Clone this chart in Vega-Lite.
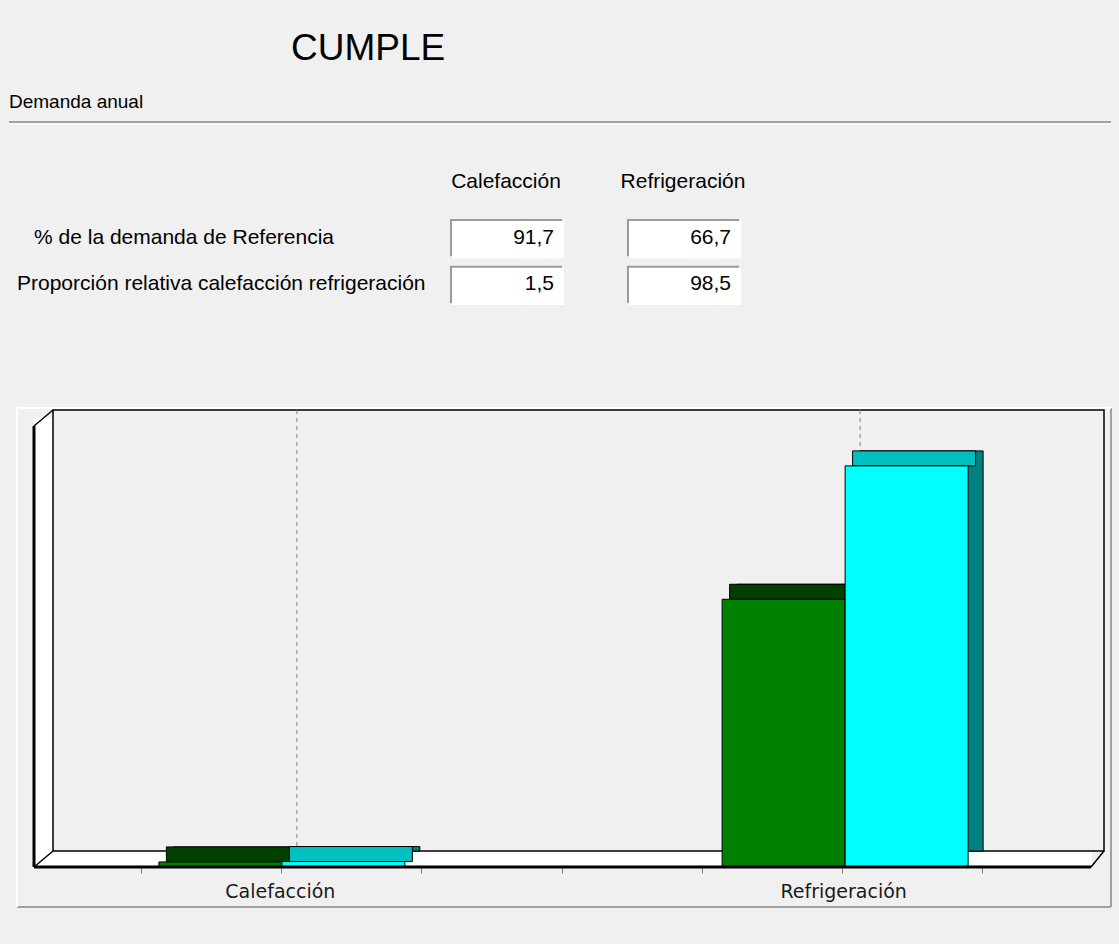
{
  "$schema": "https://vega.github.io/schema/vega-lite/v6.json",
  "background": "#f0f0f0",
  "padding": {"left": 8, "top": 30, "right": 9, "bottom": 38},
  "title": {"text": "CUMPLE", "anchor": "start", "frame": "group", "dx": 282, "offset": 25, "fontSize": 37, "font": "Liberation Sans", "fontWeight": "normal", "color": "#000000"},
  "config": {
    "view": {"stroke": null},
    "locale": {"number": {"decimal": ",", "thousands": ".", "grouping": [3], "currency": ["", " €"]}}
  },
  "spacing": 86,
  "bounds": "flush",
  "vconcat": [
    {
      "width": 1102,
      "height": 200,
      "title": {"text": "Demanda anual", "anchor": "start", "frame": "group", "offset": 9, "fontSize": 19, "font": "Liberation Sans", "fontWeight": "normal", "color": "#000000"},
      "resolve": {"scale": {"x": "independent", "y": "independent"}},
      "layer": [
        {
          "data": {"values": [{}]},
          "encoding": {
            "x": {"datum": 0, "type": "quantitative", "scale": {"domain": [0, 1], "nice": false, "zero": false}, "axis": null},
            "x2": {"datum": 1},
            "y": {"datum": 1, "type": "quantitative", "scale": {"domain": [0, 1], "nice": false, "zero": false}, "axis": null}
          },
          "layer": [
            {"mark": {"type": "rule", "color": "#a0a0a0", "strokeWidth": 2}},
            {"mark": {"type": "rule", "color": "#ffffff", "strokeWidth": 1, "yOffset": 2}}
          ]
        },
        {
          "data": {"values": [
            {"row": "r1", "col": "Calefacción", "v": 91.7},
            {"row": "r1", "col": "Refrigeración", "v": 66.7},
            {"row": "r2", "col": "Calefacción", "v": 1.5},
            {"row": "r2", "col": "Refrigeración", "v": 98.5}
          ]},
          "encoding": {
            "x": {"field": "col", "type": "nominal", "sort": ["Calefacción", "Refrigeración"],
              "scale": {"range": [441, 730], "paddingInner": 0.367, "paddingOuter": 0},
              "axis": {"orient": "top", "title": null, "domain": false, "ticks": false, "tickSize": 0, "labelPadding": -59, "labelBaseline": "middle", "labelFont": "Liberation Sans", "labelFontSize": 21, "labelColor": "#000000", "labelAngle": 0}},
            "y": {"field": "row", "type": "nominal", "scale": {"range": [97, 181], "paddingInner": 0.204, "paddingOuter": 0}, "axis": null}
          },
          "layer": [
            {"mark": {"type": "rect", "fill": "#9a9a9a"}},
            {"mark": {"type": "rect", "fill": "#ffffff", "xOffset": 2, "yOffset": 2, "x2Offset": 0, "y2Offset": 0}},
            {"mark": {"type": "text", "align": "right", "baseline": "middle", "dx": -8, "font": "Liberation Sans", "fontSize": 21, "color": "#000000"},
              "encoding": {
                "x": {"field": "col", "type": "nominal", "bandPosition": 1},
                "text": {"field": "v", "type": "quantitative", "format": ".1f"}
              }},
            {"data": {"values": [{"row": "r1", "label": "% de la demanda de Referencia"}]},
              "mark": {"type": "text", "align": "left", "baseline": "middle", "dx": -472, "font": "Liberation Sans", "fontSize": 21, "color": "#000000"},
              "encoding": {"x": {"datum": "Calefacción", "type": "nominal"}, "text": {"field": "label", "type": "nominal"}}},
            {"data": {"values": [{"row": "r2", "label": "Proporción relativa calefacción refrigeración"}]},
              "mark": {"type": "text", "align": "left", "baseline": "middle", "dx": -489, "font": "Liberation Sans", "fontSize": 21, "color": "#000000"},
              "encoding": {"x": {"datum": "Calefacción", "type": "nominal"}, "text": {"field": "label", "type": "nominal"}}}
          ]
        }
      ]
    },
    {
      "width": 1102,
      "height": 499,
      "resolve": {"scale": {"x": "independent", "y": "independent"}},
      "layer": [
        {
          "data": {"values": [{}]},
          "encoding": {
            "x": {"datum": 0, "type": "quantitative", "scale": {"domain": [0, 1], "nice": false, "zero": false}, "axis": null},
            "y": {"datum": 0, "type": "quantitative", "scale": {"domain": [0, 1], "nice": false, "zero": false}, "axis": null}
          },
          "layer": [
            {"mark": {"type": "rule", "color": "#a0a0a0", "strokeWidth": 2, "xOffset": 8},
              "encoding": {"x2": {"datum": 1}}},
            {"mark": {"type": "rule", "color": "#a0a0a0", "strokeWidth": 2},
              "encoding": {"x": {"datum": 1, "type": "quantitative"}, "y2": {"datum": 1}}},
            {"mark": {"type": "rule", "color": "#ffffff", "strokeWidth": 2, "xOffset": 8},
              "encoding": {"y2": {"datum": 1}}},
            {"mark": {"type": "rule", "color": "#ffffff", "strokeWidth": 2, "xOffset": 8},
              "encoding": {"y": {"datum": 1, "type": "quantitative"}, "x2": {"datum": 1}}}
          ]
        },
        {
          "data": {"values": [{}]},
          "encoding": {
            "x": {"datum": 0, "type": "quantitative", "scale": {"domain": [0, 1], "range": [44, 1095], "nice": false, "zero": false},
              "axis": {"orient": "bottom", "offset": -40, "values": [0.1, 0.2333, 0.3667, 0.5, 0.6333, 0.7667, 0.9], "labels": false, "domain": false, "grid": false, "ticks": true, "tickSize": 6, "tickColor": "#808080", "tickWidth": 1, "tickOffset": -17, "title": null}},
            "y": {"datum": 0, "type": "quantitative", "scale": {"domain": [0, 1], "range": [443, 2], "nice": false, "zero": false}, "axis": null}
          },
          "layer": [
            {"mark": {"type": "rect", "fill": "#ffffff", "xOffset": -19, "x2Offset": 0, "yOffset": 8, "y2Offset": 8},
              "encoding": {"x2": {"datum": 0}, "y": {"datum": 1, "type": "quantitative"}, "y2": {"datum": 0}}},
            {"mark": {"type": "rect", "fill": "#ffffff", "xOffset": -19, "x2Offset": -12, "yOffset": 0, "y2Offset": 16},
              "encoding": {"x2": {"datum": 1}, "y2": {"datum": 0}}},
            {"mark": {"type": "rect", "fill": "#f0f0f0", "stroke": "#000000", "strokeWidth": 1.5},
              "encoding": {"x2": {"datum": 1}, "y2": {"datum": 1}}},
            {"mark": {"type": "rule", "color": "#000000", "strokeWidth": 3, "xOffset": -19, "x2Offset": -13, "yOffset": 16},
              "encoding": {"x2": {"datum": 1}}},
            {"mark": {"type": "rule", "color": "#000000", "strokeWidth": 3, "xOffset": -19, "yOffset": 16, "y2Offset": 16},
              "encoding": {"y": {"datum": 1, "type": "quantitative"}, "y2": {"datum": 0}}},
            {"mark": {"type": "rule", "color": "#000000", "strokeWidth": 1.5, "xOffset": -19, "yOffset": 16},
              "encoding": {"x2": {"datum": 0}, "y": {"datum": 1, "type": "quantitative"}, "y2": {"datum": 1}}},
            {"mark": {"type": "rule", "color": "#000000", "strokeWidth": 1.5, "xOffset": -19, "yOffset": 16},
              "encoding": {"x2": {"datum": 0}, "y2": {"datum": 0}}},
            {"mark": {"type": "rule", "color": "#000000", "strokeWidth": 1.5, "xOffset": -13, "yOffset": 16},
              "encoding": {"x": {"datum": 1, "type": "quantitative"}, "x2": {"datum": 1}, "y2": {"datum": 0}}}
          ]
        },
        {
          "data": {"values": [
            {"cat": "Calefacción", "serie": "Objeto", "value": 0.46},
            {"cat": "Calefacción", "serie": "Referencia", "value": 0.5},
            {"cat": "Refrigeración", "serie": "Objeto", "value": 30.0},
            {"cat": "Refrigeración", "serie": "Referencia", "value": 45.0}
          ]},
          "encoding": {
            "x": {"field": "cat", "type": "nominal", "sort": ["Calefacción", "Refrigeración"],
              "scale": {"range": [44, 1095], "paddingInner": 0.5, "paddingOuter": 0.183},
              "axis": {"orient": "bottom", "offset": -40, "title": null, "domain": false, "grid": false, "ticks": false, "tickSize": 0, "tickOffset": -17, "labelPadding": 15, "labelFont": "DejaVu Sans", "labelFontSize": 19, "labelColor": "#1a1a1a", "labelAngle": 0}},
            "y": {"field": "value", "type": "quantitative", "stack": null, "scale": {"domain": [0, 49.6], "range": [443, 2], "nice": false}, "axis": null}
          },
          "layer": [
            {"transform": [{"filter": "datum.serie == 'Objeto'"}],
              "mark": {"type": "rule", "color": "#808080", "strokeWidth": 1, "strokeDash": [4, 4]},
              "encoding": {"y": {"datum": 49.6, "type": "quantitative", "axis": null}, "y2": {"datum": 0}}},
            {"transform": [{"filter": "datum.serie == 'Objeto'"}],
              "mark": {"type": "bar", "width": 123, "xOffset": -61.5, "fill": "#004000", "stroke": "#000000", "strokeWidth": 1},
              "encoding": {"y2": {"datum": 0}}},
            {"transform": [{"filter": "datum.serie == 'Referencia'"}],
              "mark": {"type": "bar", "width": 123, "xOffset": 61.5, "fill": "#008080", "stroke": "#000000", "strokeWidth": 1},
              "encoding": {"y2": {"datum": 0}}},
            {"transform": [{"filter": "datum.serie == 'Objeto'"}],
              "mark": {"type": "bar", "width": 123, "xOffset": -69, "yOffset": 0, "y2Offset": 15, "fill": "#004000", "stroke": "#000000", "strokeWidth": 1},
              "encoding": {"y2": {"field": "value"}}},
            {"transform": [{"filter": "datum.serie == 'Referencia'"}],
              "mark": {"type": "bar", "width": 123, "xOffset": 54, "yOffset": 0, "y2Offset": 15, "fill": "#00c0c0", "stroke": "#000000", "strokeWidth": 1},
              "encoding": {"y2": {"field": "value"}}},
            {"transform": [{"filter": "datum.serie == 'Objeto'"}],
              "mark": {"type": "bar", "width": 123, "xOffset": -76.5, "yOffset": 15, "y2Offset": 15, "fill": "#008000", "stroke": "#000000", "strokeWidth": 1},
              "encoding": {"y2": {"datum": 0}}},
            {"transform": [{"filter": "datum.serie == 'Referencia'"}],
              "mark": {"type": "bar", "width": 123, "xOffset": 46.5, "yOffset": 15, "y2Offset": 15, "fill": "#00ffff", "stroke": "#000000", "strokeWidth": 1},
              "encoding": {"y2": {"datum": 0}}}
          ]
        }
      ]
    }
  ]
}
